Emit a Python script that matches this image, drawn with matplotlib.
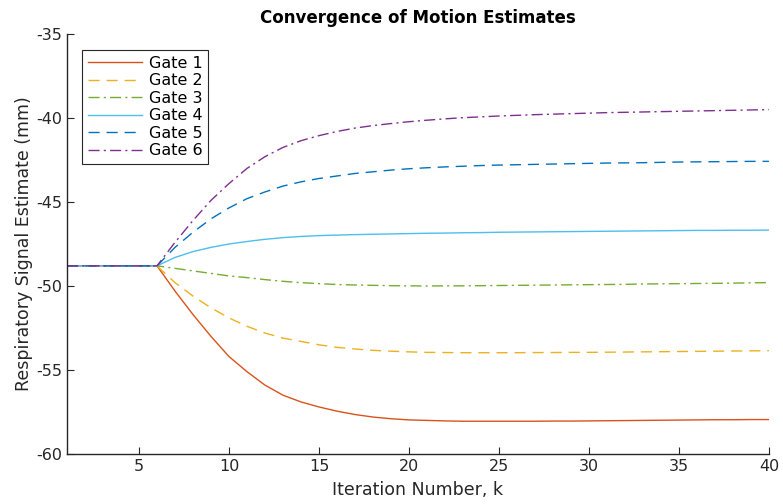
import matplotlib.pyplot as plt
import numpy as np

# iteration index
k = np.arange(1, 41)

start = [-48.8] * 6
gate1 = start + [-50.3, -51.7, -53.0, -54.2, -55.1, -55.9, -56.5, -56.9, -57.2, -57.45,
                 -57.65, -57.8, -57.9, -57.97, -58.0, -58.03, -58.05, -58.05, -58.05, -58.05,
                 -58.05, -58.04, -58.04, -58.03, -58.02, -58.01, -58.0, -57.99, -57.98, -57.97,
                 -57.96, -57.96, -57.95, -57.95]
gate2 = start + [-49.8, -50.6, -51.3, -51.9, -52.4, -52.8, -53.1, -53.3, -53.5, -53.65,
                 -53.75, -53.83, -53.88, -53.92, -53.95, -53.96, -53.97, -53.97, -53.97, -53.97,
                 -53.96, -53.96, -53.95, -53.95, -53.94, -53.93, -53.92, -53.91, -53.9, -53.89,
                 -53.88, -53.87, -53.86, -53.85]
gate3 = start + [-48.95, -49.1, -49.25, -49.4, -49.5, -49.62, -49.72, -49.8, -49.86, -49.91,
                 -49.94, -49.96, -49.98, -49.99, -50.0, -49.99, -49.99, -49.98, -49.97, -49.96,
                 -49.95, -49.94, -49.93, -49.92, -49.91, -49.9, -49.88, -49.87, -49.86, -49.85,
                 -49.84, -49.83, -49.81, -49.8]
gate4 = start + [-48.3, -47.95, -47.7, -47.5, -47.35, -47.22, -47.12, -47.05, -47.0, -46.97,
                 -46.94, -46.92, -46.9, -46.88, -46.86, -46.85, -46.83, -46.82, -46.8, -46.79,
                 -46.78, -46.77, -46.76, -46.75, -46.74, -46.73, -46.72, -46.71, -46.7, -46.69,
                 -46.69, -46.68, -46.68, -46.67]
gate5 = start + [-47.7, -46.8, -46.0, -45.35, -44.8, -44.4, -44.05, -43.8, -43.6, -43.45,
                 -43.3, -43.2, -43.1, -43.02, -42.96, -42.91, -42.87, -42.83, -42.8, -42.78,
                 -42.76, -42.74, -42.72, -42.7, -42.68, -42.67, -42.66, -42.64, -42.62, -42.61,
                 -42.6, -42.59, -42.58, -42.58]
gate6 = start + [-47.4, -46.1, -44.9, -43.9, -43.0, -42.3, -41.75, -41.35, -41.05, -40.8,
                 -40.6, -40.45, -40.33, -40.22, -40.13, -40.05, -39.98, -39.93, -39.88, -39.84,
                 -39.8, -39.77, -39.74, -39.71, -39.68, -39.66, -39.64, -39.62, -39.6, -39.58,
                 -39.56, -39.54, -39.52, -39.5]

series = [gate1, gate2, gate3, gate4, gate5, gate6]
labels = ['Gate 1', 'Gate 2', 'Gate 3', 'Gate 4', 'Gate 5', 'Gate 6']
colors = ['#D95319', '#EDB120', '#77AC30', '#4DBEEE', '#0072BD', '#7E2F8E']
styles = ['-', (0, (8, 5)), (0, (8, 3, 1.5, 3)), '-', (0, (8, 5)), (0, (8, 3, 1.5, 3))]

plt.rcParams['font.family'] = ['DejaVu Sans']
plt.rcParams['axes.unicode_minus'] = False
fig = plt.figure(figsize=(7.83, 5.04), dpi=100)
ax = fig.add_axes([0.0856, 0.0992, 0.8964, 0.8333])

for y, lab, c, ls in zip(series, labels, colors, styles):
    ax.plot(k, y, color=c, linestyle=ls, linewidth=1.0, label=lab)

ax.set_xlim(1, 40)
ax.set_ylim(-60, -35)
ax.set_xticks(range(5, 41, 5))
ax.set_yticks(range(-60, -34, 5))

dark = '#262626'
for side in ['top', 'right']:
    ax.spines[side].set_visible(False)
for side in ['left', 'bottom']:
    ax.spines[side].set_color(dark)
    ax.spines[side].set_linewidth(1.0)
ax.tick_params(direction='in', length=5, colors=dark, labelsize=11.5, width=0.8)

ax.set_title('Convergence of Motion Estimates', fontsize=12, fontweight='bold', pad=8)
ax.set_xlabel('Iteration Number, k', fontsize=12.5, color=dark, labelpad=5)
ax.set_ylabel('Respiratory Signal Estimate (mm)', fontsize=12.5, color=dark, labelpad=2)

leg = ax.legend(loc='upper left', bbox_to_anchor=(0.022, 0.962), fontsize=11.5,
                fancybox=False, framealpha=1, edgecolor=dark, handlelength=3.4,
                handletextpad=0.4, labelspacing=0.16, borderpad=0.35, borderaxespad=0)
leg.get_frame().set_linewidth(0.8)

fig.savefig('out.png', dpi=100)
